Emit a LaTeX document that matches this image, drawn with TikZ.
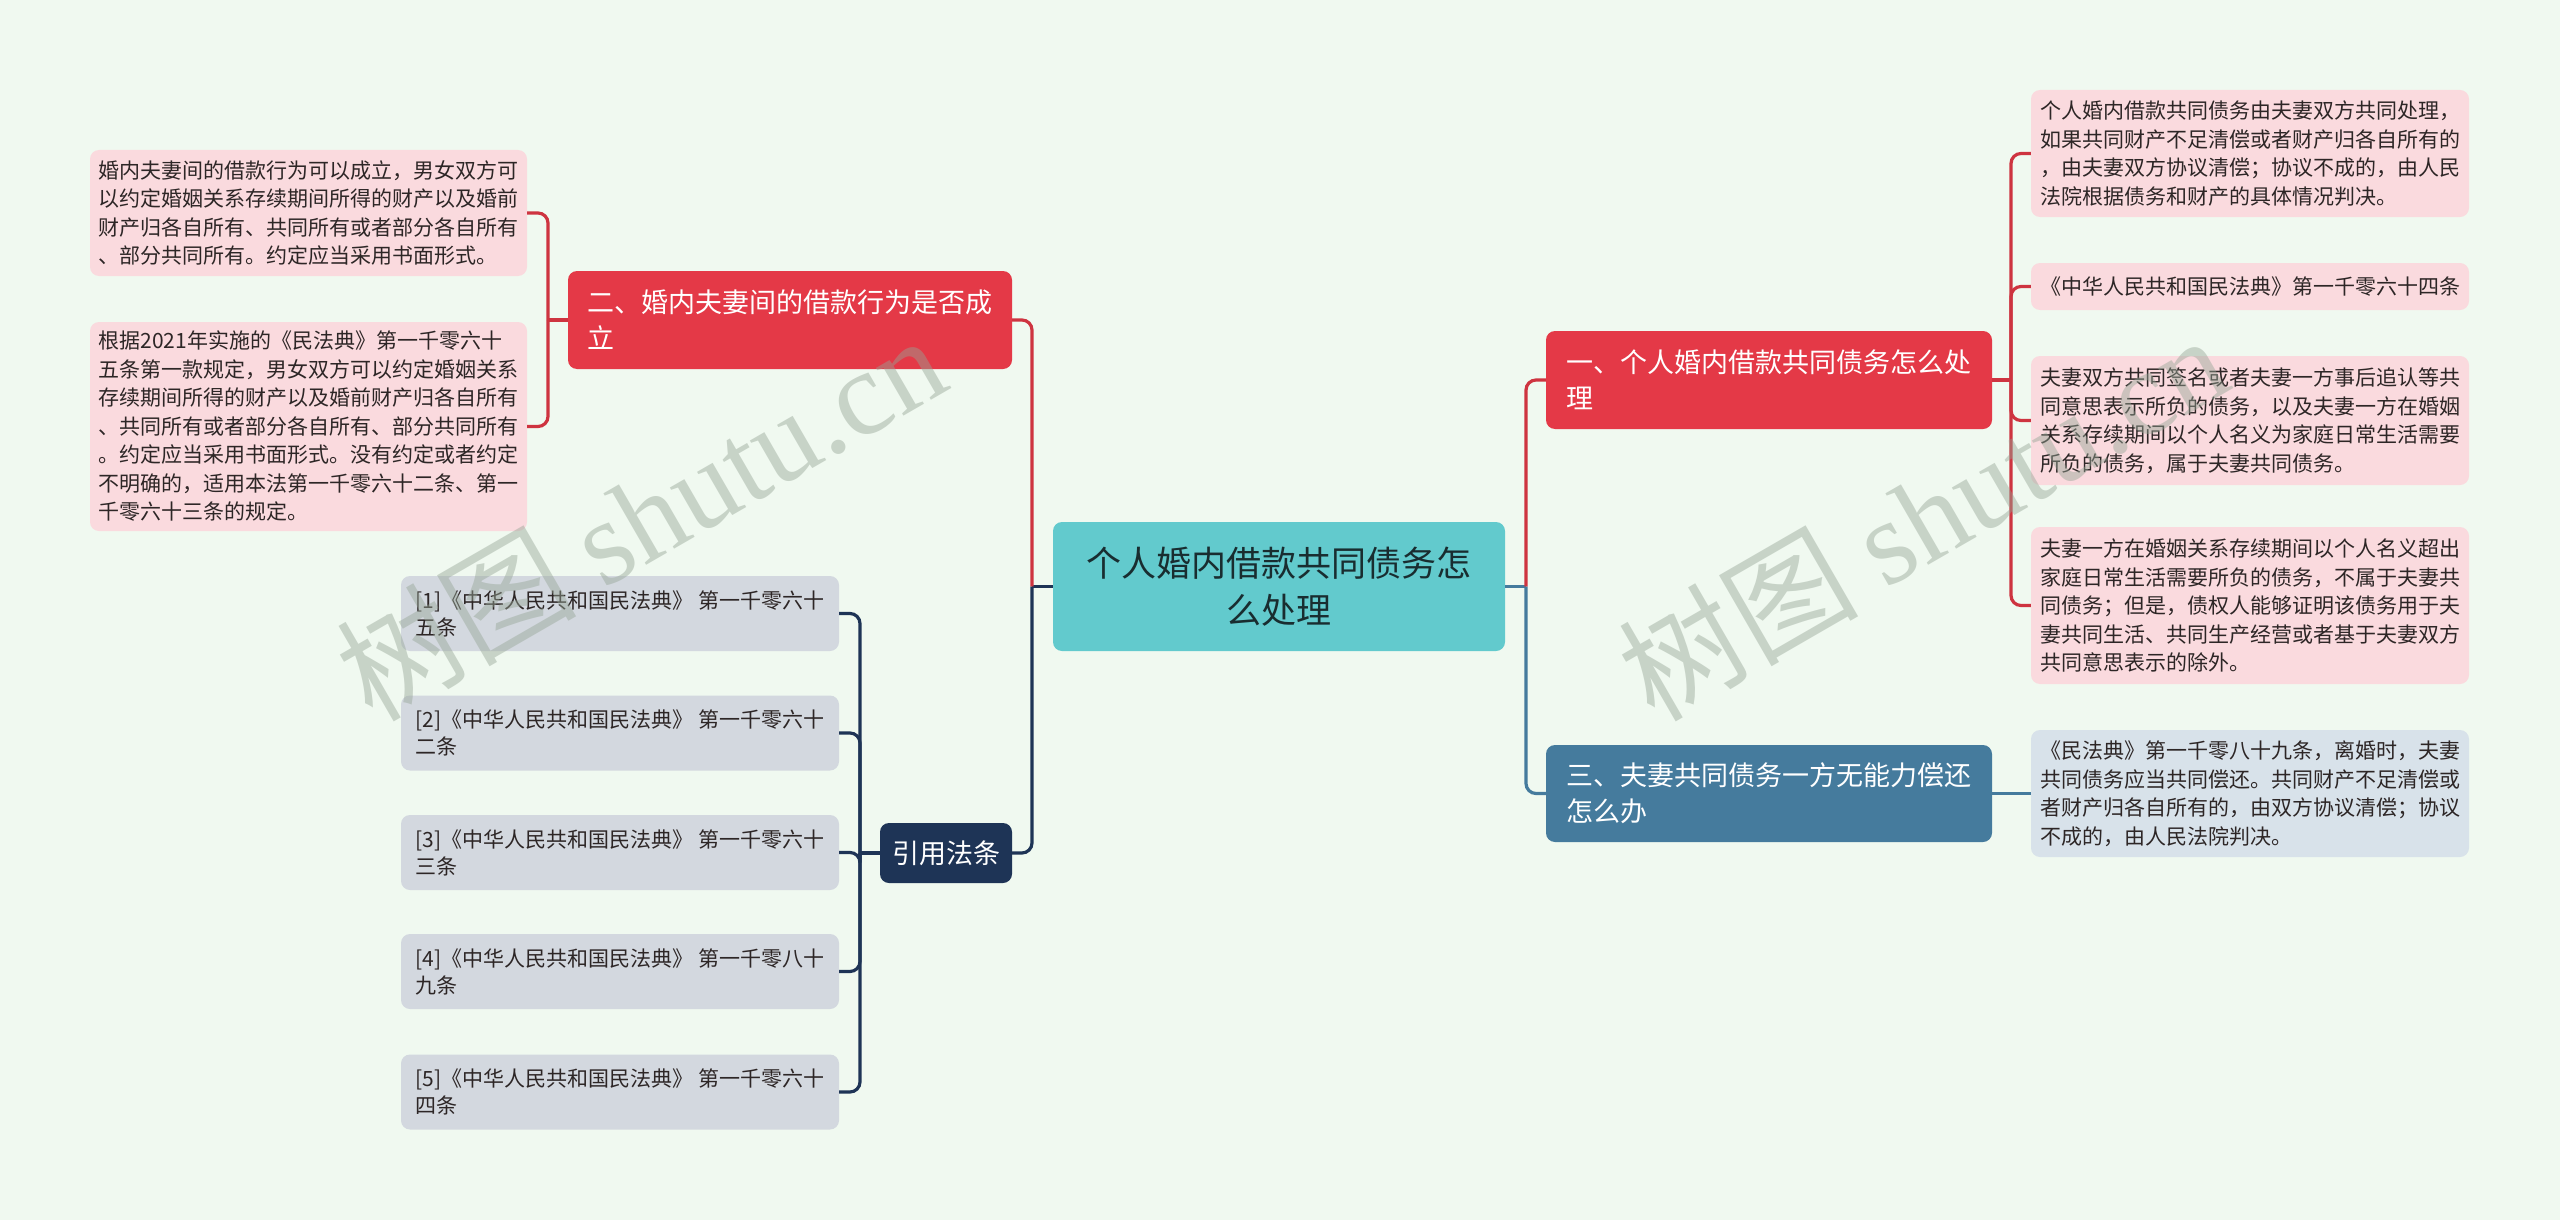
\documentclass[tikz,border=0pt]{standalone}
\usepackage{fontspec}
\setmainfont{Noto Sans CJK SC}
\newfontfamily\wmlatin{Liberation Serif}
\definecolor{bgc}{RGB}{240,249,240}
\definecolor{redn}{RGB}{228,57,71}
\definecolor{redl}{RGB}{206,52,64}
\definecolor{pinkn}{RGB}{250,218,222}
\definecolor{tealn}{RGB}{98,202,205}
\definecolor{navyn}{RGB}{30,52,86}
\definecolor{grayn}{RGB}{211,216,223}
\definecolor{bluen}{RGB}{69,123,157}
\definecolor{bluel}{RGB}{216,226,234}
\definecolor{leaftext}{RGB}{45,38,38}
\definecolor{wmc}{RGB}{150,165,150}
\begin{document}
\begin{tikzpicture}[x=1pt,y=-1pt,
  box/.style={rounded corners=9pt, inner sep=0pt, align=left},
  leaf/.style={box, fill=pinkn, text=leaftext, font=\fontsize{21}{28.5}\selectfont, minimum width=437pt},
  cit/.style={box, fill=grayn, text=leaftext, font=\fontsize{21}{27}\selectfont, minimum width=438pt, minimum height=75pt},
  topic/.style={box, text=white, font=\fontsize{27}{36}\selectfont, minimum width=446pt, minimum height=98pt},
  redline/.style={draw=redl, line width=3.2pt, rounded corners=10pt},
  navyline/.style={draw=navyn, line width=3.2pt, rounded corners=10pt},
  blueline/.style={draw=bluen, line width=3.2pt, rounded corners=10pt},
  wm/.style={rotate=30, text=wmc, opacity=0.45, font=\fontsize{120}{120}\selectfont}
]
\fill[bgc] (0,0) rectangle (2560,1220);
\useasboundingbox (0,0) rectangle (2560,1220);

% center
\node[box, fill=tealn, text={rgb,255:red,25;green,45;blue,48}, align=center, font=\fontsize{35}{47}\selectfont, minimum width=452pt, minimum height=129pt] (C) at (1279,586.5) {个人婚内借款共同债务怎\\么处理};

% left topic
\node[topic, fill=redn, minimum width=444pt] (N2) at (790,320) {二、婚内夫妻间的借款行为是否成\\立};
\node[leaf, minimum height=126pt] (L1) at (308.5,213) {婚内夫妻间的借款行为可以成立，男女双方可\\以约定婚姻关系存续期间所得的财产以及婚前\\财产归各自所有、共同所有或者部分各自所有\\、部分共同所有。约定应当采用书面形式。};
\node[leaf, minimum height=209pt] (L2) at (308.5,426.5) {根据2021年实施的《民法典》第一千零六十\\五条第一款规定，男女双方可以约定婚姻关系\\存续期间所得的财产以及婚前财产归各自所有\\、共同所有或者部分各自所有、部分共同所有\\。约定应当采用书面形式。没有约定或者约定\\不明确的，适用本法第一千零六十二条、第一\\千零六十三条的规定。};

% references
\node[box, fill=navyn, text=white, font=\fontsize{27}{36}\selectfont, minimum width=132pt, minimum height=60pt, align=center] (Ref) at (946,853) {引用法条};
\node[cit] (K1) at (620,613.5) {[1]《中华人民共和国民法典》 第一千零六十\\五条};
\node[cit] (K2) at (620,733) {[2]《中华人民共和国民法典》 第一千零六十\\二条};
\node[cit] (K3) at (620,852.5) {[3]《中华人民共和国民法典》 第一千零六十\\三条};
\node[cit] (K4) at (620,971.5) {[4]《中华人民共和国民法典》 第一千零八十\\九条};
\node[cit] (K5) at (620,1092) {[5]《中华人民共和国民法典》 第一千零六十\\四条};

% right topics
\node[topic, fill=redn] (N1) at (1769,380) {一、个人婚内借款共同债务怎么处\\理};
\node[topic, fill=bluen, minimum height=97pt] (N3) at (1769,793.5) {三、夫妻共同债务一方无能力偿还\\怎么办};

\node[leaf, minimum width=438pt, minimum height=127pt] (R1) at (2250,153.5) {个人婚内借款共同债务由夫妻双方共同处理，\\如果共同财产不足清偿或者财产归各自所有的\\，由夫妻双方协议清偿；协议不成的，由人民\\法院根据债务和财产的具体情况判决。};
\node[leaf, minimum width=438pt, minimum height=47pt, align=center] (R2) at (2250,286.5) {《中华人民共和国民法典》第一千零六十四条};
\node[leaf, minimum width=438pt, minimum height=129pt] (R3) at (2250,420.5) {夫妻双方共同签名或者夫妻一方事后追认等共\\同意思表示所负的债务，以及夫妻一方在婚姻\\关系存续期间以个人名义为家庭日常生活需要\\所负的债务，属于夫妻共同债务。};
\node[leaf, minimum width=438pt, minimum height=157pt] (R4) at (2250,605.5) {夫妻一方在婚姻关系存续期间以个人名义超出\\家庭日常生活需要所负的债务，不属于夫妻共\\同债务；但是，债权人能够证明该债务用于夫\\妻共同生活、共同生产经营或者基于夫妻双方\\共同意思表示的除外。};
\node[leaf, fill=bluel, minimum width=438pt, minimum height=127pt] (R5) at (2250,793.5) {《民法典》第一千零八十九条，离婚时，夫妻\\共同债务应当共同偿还。共同财产不足清偿或\\者财产归各自所有的，由双方协议清偿；协议\\不成的，由人民法院判决。};

% junction coordinates
\coordinate (tl) at (1032,586.5);
\coordinate (tr) at (1526,586.5);
\coordinate (bl) at (548,320);
\coordinate (cb) at (860,853);
\coordinate (rb) at (2011,380);

% connectors
\draw[navyline] (C.west) -- (tl);
\draw[redline] (tl) |- (N2.east);
\draw[navyline] (tl) |- (Ref.east);
\draw[blueline] (C.east) -- (tr);
\draw[redline] (tr) |- (N1.west);
\draw[blueline] (tr) |- (N3.west);

\draw[redline] (N2.west) -- (bl);
\draw[redline] (bl) |- (L1.east);
\draw[redline] (bl) |- (L2.east);

\draw[navyline] (Ref.west) -- (cb);
\foreach \k in {K1,K2,K3,K4,K5} \draw[navyline] (cb) |- (\k.east);

\draw[redline] (N1.east) -- (rb);
\foreach \k in {R1,R2,R3,R4} \draw[redline] (rb) |- (\k.west);
\draw[blueline] (N3.east) -- (R5.west);

% watermarks
\node[wm] (wm1) at (640,516) {树图 {\wmlatin shutu.cn}};
\node[wm] (wm2) at (1922,516) {树图 {\wmlatin shutu.cn}};
\end{tikzpicture}
\end{document}
